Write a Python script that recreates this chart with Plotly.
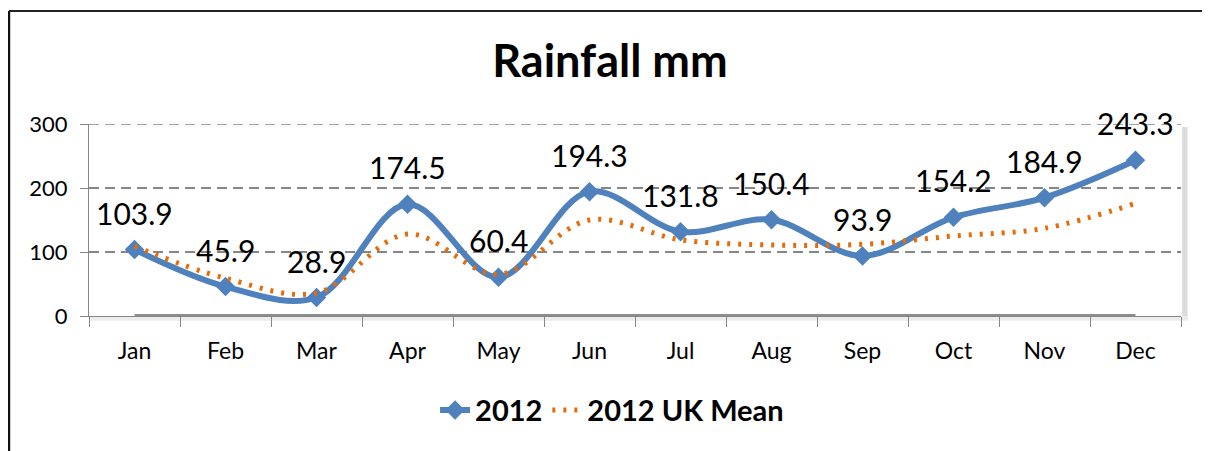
import plotly.graph_objects as go

months = ["Jan", "Feb", "Mar", "Apr", "May", "Jun", "Jul", "Aug", "Sep", "Oct", "Nov", "Dec"]
rain_2012 = [103.9, 45.9, 28.9, 174.5, 60.4, 194.3, 131.8, 150.4, 93.9, 154.2, 184.9, 243.3]
uk_mean = [109, 59, 36, 128, 65, 150, 119, 111, 112, 125, 137, 176]
baseline = [0, 0, 0, 0, 0, 0, 0, 0, 0, 0, 0, 0]
y_ticks = [0, 100, 200, 300]

FONT = "Lato"
BLUE = "#4F81BD"
ORANGE = "#E46C0A"
GRID = "#868686"

fig = go.Figure()

fig.add_trace(go.Scatter(
    x=months, y=baseline, mode="lines",
    line=dict(color="#8c8c8c", width=4),
    showlegend=False, hoverinfo="skip",
))

fig.add_trace(go.Scatter(
    x=months, y=rain_2012, name="2012", mode="lines+markers",
    line=dict(color=BLUE, width=6, shape="spline", smoothing=1),
    marker=dict(symbol="diamond", size=15, color=BLUE),
))

fig.add_trace(go.Scatter(
    x=months, y=uk_mean, name="2012 UK Mean", mode="lines",
    line=dict(color=ORANGE, width=5, shape="spline", smoothing=1, dash="3px,8px"),
))

for m, v in zip(months, rain_2012):
    fig.add_annotation(
        x=m, y=v, text=f"{v:.1f}", showarrow=False, yshift=37,
        font=dict(family=FONT, size=30, color="#000"),
    )

# top gridline at the range edge (plotly hides grid at the boundary)
fig.add_shape(type="line", xref="paper", yref="y",
              x0=0, x1=1, y0=y_ticks[-1], y1=y_ticks[-1],
              line=dict(color=GRID, width=1.5, dash="10px,6px"), layer="below")

# plot-area shadow on the right
fig.add_shape(type="rect", xref="paper", yref="paper",
              x0=1.001, x1=1.006, y0=-0.02, y1=0.985,
              fillcolor="#dcdcdc", line=dict(width=0), layer="below")
# plot-area shadow below the axis
fig.add_shape(type="rect", xref="paper", yref="paper",
              x0=0.0, x1=1.006, y0=-0.025, y1=0.0,
              fillcolor="#ececec", line=dict(width=0), layer="below")

# outer chart border
fig.add_shape(type="line", xref="paper", yref="paper",
              x0=-0.0733, x1=-0.0733, y0=1.5885, y1=-0.8,
              line=dict(color="#111", width=2.5))
fig.add_shape(type="line", xref="paper", yref="paper",
              x0=-0.0733, x1=1.05, y0=1.5885, y1=1.5885,
              line=dict(color="#222", width=2))
fig.add_shape(type="line", xref="paper", yref="paper",
              x0=1.0238, x1=1.0238, y0=1.5885, y1=-0.8,
              line=dict(color="#cfcfcf", width=1.5))

fig.update_layout(
    width=1202, height=443,
    margin=dict(l=81, r=29, t=116, b=135),
    paper_bgcolor="white", plot_bgcolor="white",
    font=dict(family=FONT, color="#000"),
    title=dict(text="<b>Rainfall mm</b>", x=0.5008, xanchor="center",
               y=0.880, yanchor="middle", yref="container",
               font=dict(family=FONT, size=45, color="#000")),
    legend=dict(orientation="h", x=0.479, xanchor="center", y=-0.49, yanchor="middle",
                font=dict(family=FONT, size=29, color="#000", weight="bold"),
                bgcolor="rgba(0,0,0,0)"),
    showlegend=True,
)

fig.update_xaxes(
    type="category", range=[-0.5, 11.5],
    showline=True, linecolor=GRID, linewidth=1,
    ticks="outside", tickson="boundaries", ticklen=10, tickcolor=GRID, tickwidth=1,
    showgrid=False, tickfont=dict(family=FONT, size=23, color="#000"),
    ticklabelstandoff=14,
)
fig.update_yaxes(
    range=[0, 300], tickvals=y_ticks,
    showline=True, linecolor=GRID, linewidth=1,
    ticks="outside", ticklen=8, tickcolor=GRID,
    showgrid=True, gridcolor=GRID, griddash="10px,6px", gridwidth=1.5,
    zeroline=False, tickfont=dict(family=FONT, size=22, color="#000"),
    ticklabelstandoff=8,
)

fig.write_html("out.html")
